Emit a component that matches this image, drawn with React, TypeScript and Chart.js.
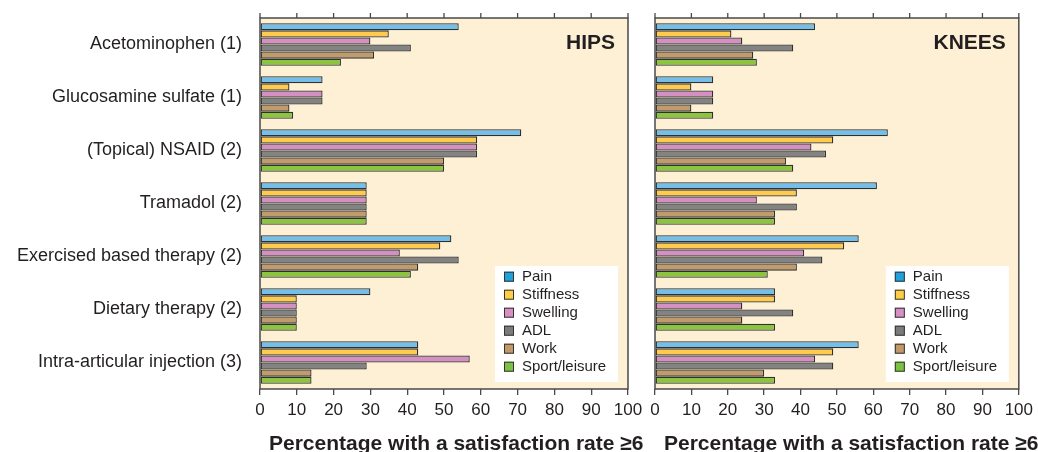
import React, { useEffect, useRef } from "react";
import { Chart, registerables } from "chart.js";

Chart.register(...registerables);

const categories = [
  "Acetominophen (1)",
  "Glucosamine sulfate (1)",
  "(Topical) NSAID (2)",
  "Tramadol (2)",
  "Exercised based therapy (2)",
  "Dietary therapy (2)",
  "Intra-articular injection (3)",
];

const seriesNames = ["Pain", "Stiffness", "Swelling", "ADL", "Work", "Sport/leisure"];
const barColors = ["#74bfe9", "#ffcb4f", "#d590c3", "#838383", "#c29b6d", "#8bc53f"];
const legendColors = ["#1fa2dc", "#ffcd48", "#d88fc3", "#7b7b7b", "#c0986a", "#7dc143"];

const hipsPain = [54, 17, 71, 29, 52, 30, 43];
const hipsStiffness = [35, 8, 59, 29, 49, 10, 43];
const hipsSwelling = [30, 17, 59, 29, 38, 10, 57];
const hipsADL = [41, 17, 59, 29, 54, 10, 29];
const hipsWork = [31, 8, 50, 29, 43, 10, 14];
const hipsSport = [22, 9, 50, 29, 41, 10, 14];

const kneesPain = [44, 16, 64, 61, 56, 33, 56];
const kneesStiffness = [21, 10, 49, 39, 52, 33, 49];
const kneesSwelling = [24, 16, 43, 28, 41, 24, 44];
const kneesADL = [38, 16, 47, 39, 46, 38, 49];
const kneesWork = [27, 10, 36, 33, 39, 24, 30];
const kneesSport = [28, 16, 38, 33, 31, 33, 33];

const xMin = 0;
const xMax = 100;
const xStep = 10;
const axisTitle = "Percentage with a satisfaction rate \u22656";

const FONT = '"Liberation Sans", Arial, Helvetica, sans-serif';
const TEXT = "#231f20";
const FRAME = "#4a4a4a";
const BG = "#fef0d4";

function makeDecor(panelTitle: string) {
  return {
    id: "decor_" + panelTitle,
    beforeDatasetsDraw(chart: any) {
      const { ctx, chartArea: a } = chart;
      ctx.save();
      ctx.fillStyle = BG;
      ctx.fillRect(a.left, a.top, a.right - a.left, a.bottom - a.top);
      ctx.restore();
    },
    afterDraw(chart: any) {
      const { ctx, chartArea: a } = chart;
      const xs = chart.scales.x;
      ctx.save();
      // frame
      ctx.strokeStyle = FRAME;
      ctx.lineWidth = 1.5;
      ctx.strokeRect(a.left, a.top, a.right - a.left, a.bottom - a.top);
      // top ticks
      ctx.lineWidth = 1.3;
      for (let v = xMin; v <= xMax; v += xStep) {
        const px = xs.getPixelForValue(v);
        ctx.beginPath();
        ctx.moveTo(px, a.top - 5);
        ctx.lineTo(px, a.top);
        ctx.stroke();
      }
      // panel title
      ctx.fillStyle = TEXT;
      ctx.font = "bold 21px " + FONT;
      ctx.textAlign = "right";
      ctx.textBaseline = "alphabetic";
      ctx.fillText(panelTitle, a.right - 13, a.top + 30.5);
      // legend
      const bw = 123;
      const bh = 116;
      const bx = a.right - 10 - bw;
      const by = a.bottom - 7 - bh;
      ctx.fillStyle = "#ffffff";
      ctx.fillRect(bx, by, bw, bh);
      ctx.font = "15px " + FONT;
      ctx.textAlign = "left";
      ctx.textBaseline = "middle";
      chart.data.datasets.forEach((ds: any, i: number) => {
        const cy = by + 10.7 + i * 18;
        ctx.fillStyle = legendColors[i];
        ctx.fillRect(bx + 9, cy - 5, 10, 10);
        ctx.strokeStyle = "#333333";
        ctx.lineWidth = 1;
        ctx.strokeRect(bx + 9.5, cy - 4.5, 9, 9);
        ctx.fillStyle = TEXT;
        ctx.fillText(ds.label, bx + 27, cy + 0.5);
      });
      // axis title
      ctx.font = "bold 21px " + FONT;
      ctx.textAlign = "left";
      ctx.textBaseline = "alphabetic";
      ctx.fillStyle = TEXT;
      ctx.fillText(axisTitle, a.left + 9, 450);
      ctx.restore();
    },
  };
}

function makeConfig(
  panelTitle: string,
  series: number[][],
  showY: boolean,
  yWidth: number,
  padRight: number
): any {
  return {
    type: "bar",
    data: {
      labels: categories,
      datasets: series.map((d, i) => ({
        label: seriesNames[i],
        data: d,
        backgroundColor: barColors[i],
        borderColor: "#303030",
        borderWidth: 1.3,
        borderSkipped: false,
        categoryPercentage: 0.8,
        barPercentage: 1.0,
      })),
    },
    options: {
      indexAxis: "y",
      responsive: false,
      maintainAspectRatio: false,
      animation: false,
      layout: { padding: { top: 18, right: padRight, left: 0, bottom: 0 } },
      plugins: {
        legend: { display: false },
        tooltip: { enabled: false },
        title: { display: false },
      },
      scales: {
        x: {
          type: "linear",
          position: "bottom",
          min: xMin,
          max: xMax,
          grid: {
            display: true,
            drawOnChartArea: false,
            drawTicks: true,
            tickLength: 6,
            color: FRAME,
            lineWidth: 1.3,
          },
          border: { display: false },
          ticks: {
            stepSize: xStep,
            autoSkip: false,
            maxRotation: 0,
            padding: 5,
            color: TEXT,
            font: { family: FONT, size: 17 },
          },
          afterFit: (s: any) => {
            s.height = 63;
          },
        },
        y: {
          type: "category",
          position: "left",
          grid: { display: false, drawTicks: false },
          border: { display: false },
          ticks: {
            display: showY,
            padding: 18,
            color: TEXT,
            font: { family: FONT, size: 18 },
          },
          afterFit: (s: any) => {
            s.width = yWidth;
            s.paddingTop = 0;
            s.paddingBottom = 0;
          },
        },
      },
    },
    plugins: [makeDecor(panelTitle)],
  };
}

export default function App() {
  const hipsRef = useRef<HTMLCanvasElement | null>(null);
  const kneesRef = useRef<HTMLCanvasElement | null>(null);

  useEffect(() => {
    const c1 = new Chart(
      hipsRef.current as HTMLCanvasElement,
      makeConfig(
        "HIPS",
        [hipsPain, hipsStiffness, hipsSwelling, hipsADL, hipsWork, hipsSport],
        true,
        260,
        22
      )
    );
    const c2 = new Chart(
      kneesRef.current as HTMLCanvasElement,
      makeConfig(
        "KNEES",
        [kneesPain, kneesStiffness, kneesSwelling, kneesADL, kneesWork, kneesSport],
        false,
        15,
        15.5
      )
    );
    return () => {
      c1.destroy();
      c2.destroy();
    };
  }, []);

  return (
    <div
      style={{
        position: "fixed",
        left: 0,
        top: 0,
        width: 1038,
        height: 452,
        background: "#ffffff",
        overflow: "hidden",
      }}
    >
      <canvas
        ref={hipsRef}
        width={650}
        height={452}
        style={{ position: "absolute", left: 0, top: 0, width: 650, height: 452 }}
      />
      <canvas
        ref={kneesRef}
        width={398}
        height={452}
        style={{ position: "absolute", left: 640, top: 0, width: 398, height: 452 }}
      />
    </div>
  );
}
